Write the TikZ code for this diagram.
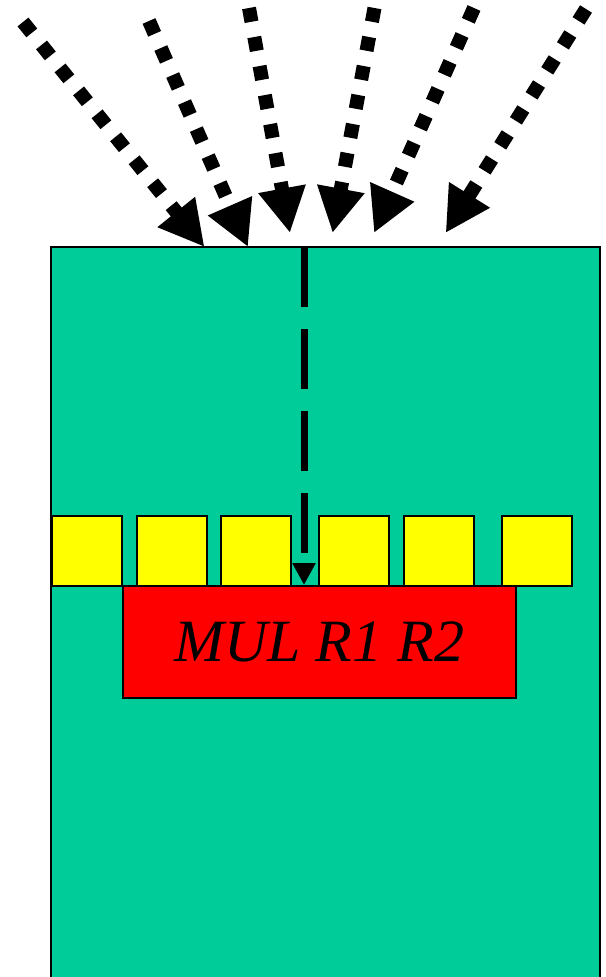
\documentclass[tikz,border=0pt]{standalone}
\usepackage{fontspec}
\setmainfont{Liberation Serif}
\usetikzlibrary{arrows.meta}
\begin{document}
\begin{tikzpicture}[x=1pt,y=-1pt,
  chipbox/.style={draw=black,line width=1.5pt,fill=chipgreen},
  slot/.style={draw=black,line width=1.5pt,fill=regyellow,minimum width=70pt,minimum height=70pt,inner sep=0pt,anchor=north west},
  instr/.style={draw=black,line width=1.5pt,fill=red,minimum width=393pt,minimum height=112pt,inner sep=0pt,anchor=north west,font=\fontsize{60}{60}\selectfont\itshape},
  incoming/.style={line width=14pt,dash pattern=on 14pt off 15.5pt,-{Triangle[length=45pt,width=45pt]}},
  fetch/.style={line width=7pt,dash pattern=on 60pt off 22pt,-{Triangle[length=22pt,width=22pt]}}]
\definecolor{chipgreen}{RGB}{0,204,153}
\definecolor{regyellow}{RGB}{255,255,0}
\useasboundingbox (0,0) rectangle (605,977);
% processor body
\draw[chipbox] (51,247) rectangle (600,1000);
\coordinate (top) at (304,247);
% row of registers
\node[slot] (s1) at (51,515) {};
\node[slot] (s2) at (136,515) {};
\node[slot] (s3) at (220,515) {};
\node[slot] (s4) at (318,515) {};
\node[slot] (s5) at (403,515) {};
\node[slot] (s6) at (501,515) {};
% instruction
\node[instr] (mul) at (122,585) {MUL R1 R2};
\coordinate (mulin) at (304,585);
\draw[fetch] (top) -- (mulin);
% incoming signals
\coordinate (a1) at (23,22);   \coordinate (b1) at (204.5,247);
\coordinate (a2) at (149,21);  \coordinate (b2) at (248,247);
\coordinate (a3) at (249,8);   \coordinate (b3) at (290,233);
\coordinate (a4) at (374.5,8); \coordinate (b4) at (332.6,233);
\coordinate (a5) at (474,8);   \coordinate (b5) at (374,233);
\coordinate (a6) at (586,9);   \coordinate (b6) at (445.6,233);
\foreach \i in {1,...,6} \draw[incoming] (a\i) -- (b\i);
\end{tikzpicture}
\end{document}
